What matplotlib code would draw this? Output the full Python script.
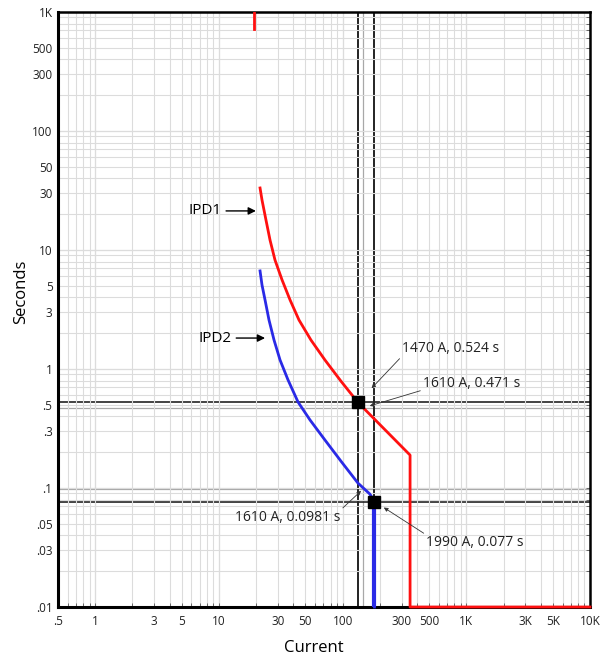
import matplotlib
matplotlib.use("Agg")
import matplotlib.pyplot as plt
from matplotlib.ticker import FixedLocator, LogLocator, NullFormatter
import numpy as np

plt.rcParams['font.family'] = ['Open Sans', 'DejaVu Sans']

# the curves are drawn in the chart's own current units,
# the callouts are given in amps (about 11 A per axis unit)
CURRENT_SCALE = 11.0

x_ticks = [0.5, 1, 3, 5, 10, 30, 50, 100, 300, 500, 1000, 3000, 5000, 10000]
x_labels = ['.5', '1', '3', '5', '10', '30', '50', '100', '300', '500', '1K', '3K', '5K', '10K']
y_ticks = [0.01, 0.03, 0.05, 0.1, 0.3, 0.5, 1, 3, 5, 10, 30, 50, 100, 300, 500, 1000]
y_labels = ['.01', '.03', '.05', '.1', '.3', '.5', '1', '3', '5', '10', '30', '50', '100', '300', '500', '1K']

# IPD1 (red)
ipd1_top_i = [19.2, 19.2]
ipd1_top_t = [720, 1000]
ipd1_i = [21.5, 22.3, 24.0, 25.9, 28.4, 32.4, 37.6, 44.4, 55.5, 72, 97, 133, 351, 351, 10000]
ipd1_t = [33.2, 26.3, 17.9, 12.1, 8.24, 5.60, 3.80, 2.58, 1.75, 1.19, 0.79, 0.524, 0.189, 0.01, 0.01]

# IPD2 (blue)
ipd2_i = [21.5, 22.3, 23.6, 25.4, 27.9, 31.2, 36.2, 43.6, 54.5, 72, 97, 133, 166, 181, 181]
ipd2_t = [6.67, 5.08, 3.80, 2.58, 1.75, 1.19, 0.809, 0.528, 0.373, 0.253, 0.168, 0.110, 0.089, 0.077, 0.01]

# operating points (black squares + black cross lines)
op_amps = [1470, 1990]
op_secs = [0.524, 0.077]
# other read-outs (grey cross lines)
ref_amps = [1610]
ref_secs = [0.471, 0.0981]

callout_text = ['1470 A, 0.524 s', '1610 A, 0.471 s', '1610 A, 0.0981 s', '1990 A, 0.077 s']
callout_amps = [1470, 1610, 1610, 1990]
callout_secs = [0.524, 0.471, 0.0981, 0.077]

fig = plt.figure(figsize=(6.07, 6.58), dpi=100)
ax = fig.add_axes([58 / 607, 1 - 607 / 658, 532 / 607, 595 / 658])
ax.set_xscale('log')
ax.set_yscale('log')
ax.set_xlim(0.5, 10000)
ax.set_ylim(0.01, 1000)

# grid: every 1..9 line, decades a bit darker
for axis in (ax.xaxis, ax.yaxis):
    axis.set_minor_locator(LogLocator(base=10, subs=np.arange(1, 10), numticks=100))
    axis.set_minor_formatter(NullFormatter())
    axis.remove_overlapping_locs = False
ax.grid(which='minor', color='#dcdcdc', lw=0.8)
for d in [1, 10, 100, 1000]:
    ax.axvline(d, color='#b8b8b8', lw=0.8, zorder=0.5)
for d in [0.1, 1, 10, 100]:
    ax.axhline(d, color='#b8b8b8', lw=0.8, zorder=0.5)

ax.xaxis.set_major_locator(FixedLocator(x_ticks))
ax.set_xticklabels(x_labels)
ax.yaxis.set_major_locator(FixedLocator(y_ticks))
ax.set_yticklabels(y_labels)
ax.tick_params(which='major', length=0, labelsize=8.5, colors='#222222')
ax.tick_params(axis='x', which='major', pad=6)
ax.tick_params(axis='y', which='major', pad=4)
ax.tick_params(which='minor', direction='in', length=3, width=0.6,
               bottom=True, right=True, left=False, top=False, color='#555555')

for s in ['left', 'bottom']:
    ax.spines[s].set_linewidth(2.2)
for s in ['top', 'right']:
    ax.spines[s].set_linewidth(1.8)

# cross lines
for a in ref_amps:
    ax.axvline(a / CURRENT_SCALE, color='#a8a8a8', lw=0.9, zorder=1)
for s in ref_secs:
    ax.axhline(s, color='#a8a8a8', lw=0.9, zorder=1)
for a, s in zip(op_amps, op_secs):
    ax.axvline(a / CURRENT_SCALE, color='#222222', lw=1.4, zorder=1.5)
    ax.axhline(s, color='#222222', lw=1.2, zorder=1.5)

# curves
ax.plot(ipd1_top_i, ipd1_top_t, color='#ff1010', lw=2, zorder=3)
ax.plot(ipd1_i, ipd1_t, color='#ff1010', lw=2, zorder=3, clip_on=False)
ax.plot(ipd2_i, ipd2_t, color='#2a2ae6', lw=2, zorder=3.5, clip_on=False)
ax.plot(ipd2_i[-2:], ipd2_t[-2:], color='#2a2ae6', lw=3, zorder=3.5)

ax.plot([a / CURRENT_SCALE for a in op_amps], op_secs, 's', color='black',
        ms=8, zorder=4, ls='none')

# curve labels
ax.annotate('IPD1', xy=(19.9, 21.3), xytext=(-34, 0), textcoords='offset pixels',
            ha='right', va='center', fontsize=11,
            arrowprops=dict(arrowstyle='-|>', color='black', lw=1, mutation_scale=11,
                            shrinkA=1, shrinkB=0))
ax.annotate('IPD2', xy=(23.6, 1.82), xytext=(-33, 0), textcoords='offset pixels',
            ha='right', va='center', fontsize=11,
            arrowprops=dict(arrowstyle='-|>', color='black', lw=1, mutation_scale=11,
                            shrinkA=1, shrinkB=0))

# callouts
offsets = [(44, 54), (60, 24), (-23, -29), (52, -41)]
aligns = ['left', 'left', 'right', 'left']
rel = [(0, 0), (0, 0.1), (1, 1), (0, 1)]
shrink = [14, 5, 2, 8]
for txt, a, s, off, ha, rp, sh in zip(callout_text, callout_amps, callout_secs,
                                      offsets, aligns, rel, shrink):
    ax.annotate(txt, xy=(a / CURRENT_SCALE, s), xytext=off, textcoords='offset pixels',
                ha=ha, va='center', fontsize=10, color='#222222', zorder=5,
                arrowprops=dict(arrowstyle='-|>', color='#333333', lw=0.6,
                                mutation_scale=6, relpos=rp, shrinkA=0, shrinkB=sh))

ax.set_xlabel('Current', fontsize=12)
ax.set_ylabel('Seconds', fontsize=12)
ax.xaxis.set_label_coords(0.48, -0.055)
ax.yaxis.set_label_coords(-0.055, 0.53)

fig.savefig('out.png', dpi=100)
